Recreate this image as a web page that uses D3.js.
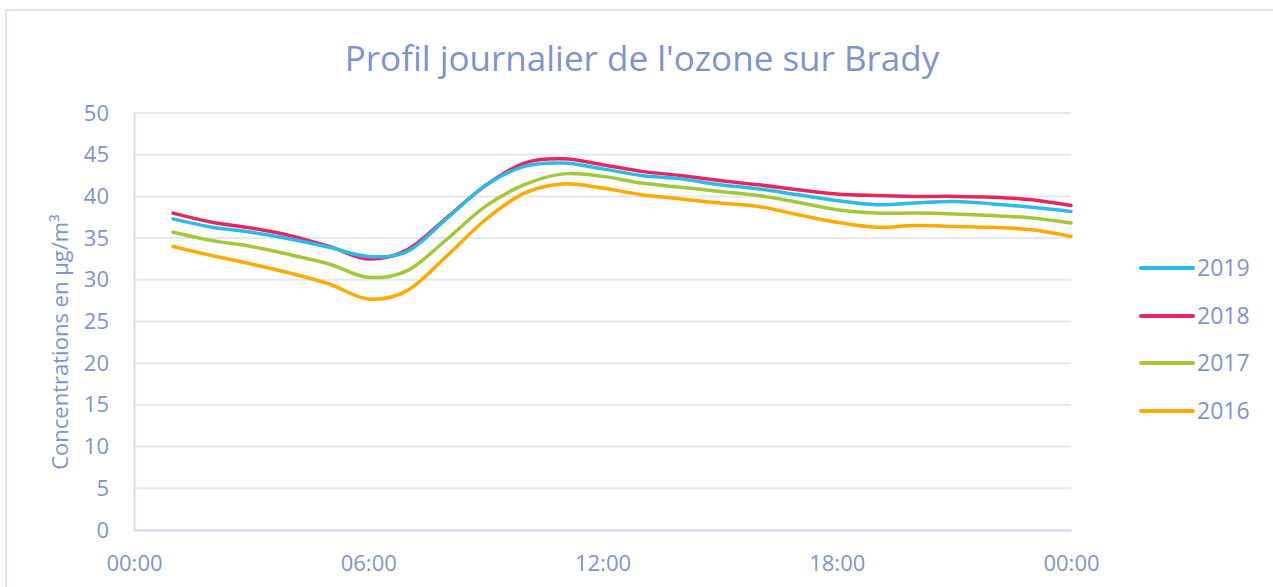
<!DOCTYPE html>
<html>
<head>
<meta charset="utf-8">
<script src="https://cdn.jsdelivr.net/npm/d3@7"></script>
<style>
  body { margin: 0; background: #fff; }
  text { font-family: "Open Sans", "Noto Sans", sans-serif; fill: #7f94cc; }
</style>
</head>
<body>
<div id="wrapper"></div>
<script>
// hours 1..24 (24 = 00:00 next day)
const hours = d3.range(1, 25);
const years = ["2019", "2018", "2017", "2016"];
const colors = ["#29bbea", "#e8265e", "#a4c639", "#ffaa00"];

const s2019 = [37.3, 36.3, 35.7, 34.9, 33.9, 32.8, 33.4, 37.3, 41.3, 43.6, 44.0, 43.3, 42.5, 42.1, 41.4, 40.9, 40.2, 39.5, 39.0, 39.2, 39.4, 39.1, 38.7, 38.2];
const s2018 = [38.0, 36.9, 36.2, 35.3, 34.0, 32.5, 33.6, 37.4, 41.3, 44.0, 44.5, 43.8, 43.0, 42.5, 41.9, 41.4, 40.8, 40.3, 40.1, 40.0, 40.0, 39.9, 39.6, 38.9];
const s2017 = [35.7, 34.7, 34.0, 33.0, 31.9, 30.3, 31.1, 34.8, 38.8, 41.4, 42.7, 42.4, 41.6, 41.1, 40.6, 40.1, 39.3, 38.4, 38.0, 38.0, 37.9, 37.7, 37.4, 36.8];
const s2016 = [34.0, 32.9, 31.9, 30.8, 29.5, 27.7, 28.7, 32.8, 37.2, 40.4, 41.5, 41.0, 40.2, 39.7, 39.2, 38.8, 37.8, 36.9, 36.3, 36.5, 36.4, 36.3, 36.0, 35.2];
const series = [s2019, s2018, s2017, s2016];

const xTicks = [0, 6, 12, 18, 24];
const xTickLabels = ["00:00", "06:00", "12:00", "18:00", "00:00"];
const yTicks = d3.range(0, 55, 5);

const width = 1273, height = 587;
const margin = { top: 113, left: 134, right: 202, bottom: 57 };
const boundedWidth = width - margin.left - margin.right;
const boundedHeight = height - margin.top - margin.bottom;

const svg = d3.select("#wrapper").append("svg")
    .attr("width", width)
    .attr("height", height);

// chart border
svg.append("rect")
    .attr("x", 6).attr("y", 10)
    .attr("width", width + 20).attr("height", height + 20)
    .attr("fill", "none")
    .attr("stroke", "#dfe4f0")
    .attr("stroke-width", 2);

svg.append("text")
    .attr("x", 642).attr("y", 71)
    .attr("text-anchor", "middle")
    .style("font-size", "35px")
    .text("Profil journalier de l'ozone sur Brady");

const bounded = svg.append("g")
    .attr("transform", `translate(${margin.left},${margin.top})`);

const xScale = d3.scaleLinear().domain([0, 24]).range([0, boundedWidth]);
const yScale = d3.scaleLinear().domain([0, 50]).range([boundedHeight, 0]);

// gridlines
bounded.append("g")
    .selectAll("line")
    .data(yTicks.filter(d => d > 0))
    .join("line")
    .attr("x1", 0).attr("x2", boundedWidth)
    .attr("y1", d => yScale(d)).attr("y2", d => yScale(d))
    .attr("stroke", "#e3e7f1")
    .attr("stroke-width", 2);

// axes
const yAxis = bounded.append("g")
    .call(d3.axisLeft(yScale).tickValues(yTicks).tickSize(0).tickPadding(25));
yAxis.select(".domain").attr("stroke", "#d3dbee").attr("stroke-width", 2);
yAxis.selectAll("text").style("font-size", "22px").attr("fill", "#7f94cc");

const xAxis = bounded.append("g")
    .attr("transform", `translate(0,${boundedHeight})`)
    .call(d3.axisBottom(xScale).tickValues(xTicks).tickFormat((d, i) => xTickLabels[i]).tickSize(0).tickPadding(25));
xAxis.select(".domain").attr("stroke", "#cbd5ec").attr("stroke-width", 2);
xAxis.selectAll("text").style("font-size", "22px").attr("fill", "#7f94cc");

svg.append("text")
    .attr("transform", "translate(68,342) rotate(-90)")
    .attr("text-anchor", "middle")
    .style("font-size", "22px")
    .text("Concentrations en µg/m³");

const line = d3.line()
    .x((d, i) => xScale(hours[i]))
    .y(d => yScale(d))
    .curve(d3.curveCardinal.tension(0));

bounded.selectAll(".series")
    .data(series.slice().reverse())
    .join("path")
    .attr("class", "series")
    .attr("d", d => line(d))
    .attr("fill", "none")
    .attr("stroke", (d, i) => colors[colors.length - 1 - i])
    .attr("stroke-width", 3.5)
    .attr("stroke-linecap", "round");

// legend
const legend = svg.append("g");
const legendY = [268, 316, 363, 411];
years.forEach((y, i) => {
    legend.append("line")
        .attr("x1", 1141).attr("x2", 1193)
        .attr("y1", legendY[i]).attr("y2", legendY[i])
        .attr("stroke", colors[i])
        .attr("stroke-width", 4)
        .attr("stroke-linecap", "round");
    legend.append("text")
        .attr("x", 1197).attr("y", legendY[i] + 8)
        .style("font-size", "23px")
        .text(y);
});
</script>
</body>
</html>
